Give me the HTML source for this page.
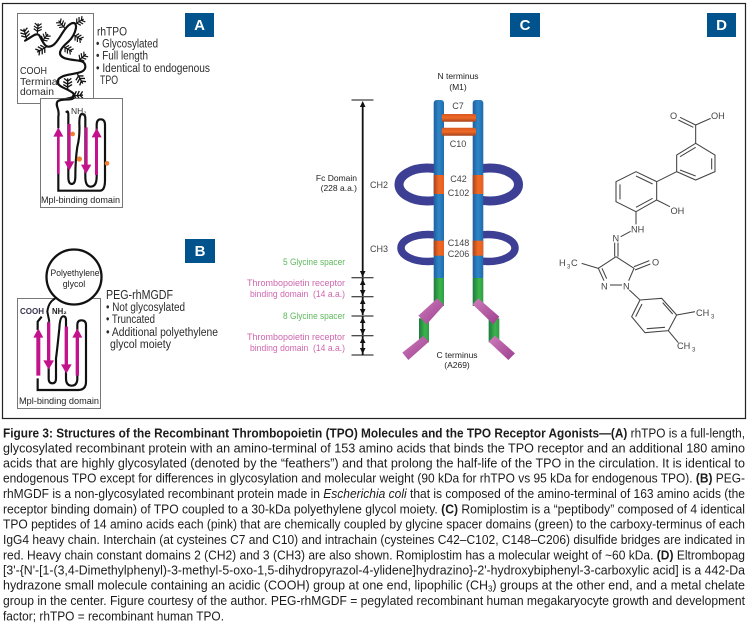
<!DOCTYPE html>
<html><head><meta charset="utf-8"><style>
html,body{margin:0;padding:0;background:#fff}
svg{display:block}
text{font-family:"Liberation Sans",sans-serif;fill:#2b2b2b}
.cap{font-size:12.6px;fill:#1c1c1c}
.b{font-weight:bold}
.badge{font-size:15px;font-weight:bold;fill:#fff;text-anchor:middle}
.t{font-size:11.5px}
.c{font-size:9px;fill:#444;text-anchor:middle}
.r{text-anchor:end}
.g{fill:#5cb85c;font-size:9.5px}
.p{fill:#cf66ae;font-size:9.5px}
.m{font-size:9.2px;fill:#444}
</style></head><body>
<svg width="753" height="626" viewBox="0 0 753 626" xmlns="http://www.w3.org/2000/svg">
<defs>
<linearGradient id="blue" x1="0" x2="1" y1="0" y2="0"><stop offset="0" stop-color="#1f5f9e"/><stop offset=".5" stop-color="#2e86c8"/><stop offset="1" stop-color="#1f6bab"/></linearGradient>
<linearGradient id="green" x1="0" x2="1" y1="0" y2="0"><stop offset="0" stop-color="#1f7a42"/><stop offset=".6" stop-color="#3cb54a"/><stop offset="1" stop-color="#2f9e48"/></linearGradient>
<linearGradient id="org" x1="0" x2="1" y1="0" y2="0"><stop offset="0" stop-color="#a8431c"/><stop offset=".5" stop-color="#f06a25"/><stop offset="1" stop-color="#e85f20"/></linearGradient>
<linearGradient id="orgv" x1="0" x2="0" y1="0" y2="1"><stop offset="0" stop-color="#d9581f"/><stop offset=".5" stop-color="#ee6a28"/><stop offset="1" stop-color="#a8431c"/></linearGradient>
<linearGradient id="pink" x1="0" x2="1" y1="0" y2="1"><stop offset="0" stop-color="#cf7dbb"/><stop offset="1" stop-color="#9c3f8f"/></linearGradient>
<clipPath id="cl"><rect x="385" y="150" width="53" height="125"/></clipPath>
<clipPath id="cr"><rect x="478" y="150" width="53" height="125"/></clipPath>
<g id="fe" fill="none" stroke="#111" stroke-width="3.600">
<path d="M0 0V-30M0-6L-12-13M0-6L12-13M0-14L-12-21M0-14L12-21M0-22L-10-30M0-22L10-30"/>
</g>
</defs>
<rect width="753" height="626" fill="#fff"/>
<rect x="2.500" y="3.500" width="743" height="415" fill="none" stroke="#222" stroke-width="1.200"/>

<rect x="185" y="13" width="29" height="24" fill="#00538c"/><text class="badge" x="199.500" y="30">A</text>
<rect x="185" y="239" width="30" height="24" fill="#00538c"/><text class="badge" x="200" y="256">B</text>
<rect x="510" y="13" width="30" height="24" fill="#00538c"/><text class="badge" x="525" y="30">C</text>
<rect x="707" y="13" width="29" height="24" fill="#00538c"/><text class="badge" x="721.500" y="30">D</text>

<!-- Panel A -->
<rect x="17.500" y="13.500" width="76" height="90" fill="#fff" stroke="#777" stroke-width="1"/>
<text x="20" y="74" style="font-size:10.500px" textLength="27" lengthAdjust="spacingAndGlyphs">COOH</text>
<text x="20" y="85" style="font-size:10.500px" textLength="40" lengthAdjust="spacingAndGlyphs">Terminal</text>
<text x="20" y="95" style="font-size:10.500px" textLength="34" lengthAdjust="spacingAndGlyphs">domain</text>
<g transform="scale(.33333)">
<g fill="none" stroke="#111" stroke-width="6.500" stroke-linecap="round">
<path d="M75 122C95 112 108 96 118 106C130 130 138 150 160 135C180 120 190 82 215 70C238 62 228 105 205 125C178 148 170 165 195 175C225 185 256 175 256 200C256 228 195 215 175 238C165 262 200 262 220 280C228 300 190 292 172 305"/>
</g>
<use href="#fe" transform="translate(80 118) rotate(-15) scale(1.100)"/>
<use href="#fe" transform="translate(112 100) rotate(5) scale(1)"/>
<use href="#fe" transform="translate(125 125) rotate(40) scale(1)"/>
<use href="#fe" transform="translate(140 140) rotate(-120) scale(1.100)"/>
<use href="#fe" transform="translate(195 85) rotate(-40) scale(1)"/>
<use href="#fe" transform="translate(225 72) rotate(60) scale(1)"/>
<use href="#fe" transform="translate(220 105) rotate(120) scale(1)"/>
<use href="#fe" transform="translate(190 140) rotate(120) scale(1)"/>
<use href="#fe" transform="translate(235 182) rotate(50) scale(1)"/>
<use href="#fe" transform="translate(232 222) rotate(150) scale(1.100)"/>
<use href="#fe" transform="translate(203 268) rotate(0) scale(1.100)"/>
<use href="#fe" transform="translate(216 288) rotate(85) scale(1.100)"/>
</g>
<rect x="40.500" y="98.500" width="82" height="109" fill="#fff" stroke="#777" stroke-width="1"/>
<g transform="scale(.33333)">
<path d="M175 385V350C180 325 165 320 172 305C185 292 215 305 222 292" fill="none" stroke="#111" stroke-width="6.500"/>
<path d="M175 515V572H300Q315 572 315 540V375Q315 358 302 358Q290 358 290 375V530Q290 560 272 560Q256 560 256 530V355Q256 342 246 342Q238 342 238 370Q240 410 232 440Q226 480 226 530Q226 552 215 552Q205 552 205 530V345Q205 328 198 338" fill="none" stroke="#111" stroke-width="6.500"/>
<g fill="#c2128c">
<path d="M171 522V410H160L175 382L190 410H179V522Z"/>
<path d="M203 372H212V484H223L208 512L193 484H203Z"/>
<path d="M254 382H263V494H274L258 522L243 494H254Z"/>
<path d="M285 525V412H275L290 384L305 412H294V525Z"/>
</g>
<g fill="#f08030"><circle cx="218" cy="402" r="7"/><circle cx="238" cy="477" r="8"/><circle cx="321" cy="490" r="7"/></g>
</g>
<text x="71" y="114" style="font-size:8.500px;fill:#333">NH₂</text>
<text x="41" y="203" style="font-size:9px;fill:#222" textLength="79" lengthAdjust="spacingAndGlyphs">Mpl-binding domain</text>
<text class="t" x="97" y="35.500" style="font-size:12px" textLength="30" lengthAdjust="spacingAndGlyphs">rhTPO</text>
<text class="t" x="96" y="47.500" textLength="62" lengthAdjust="spacingAndGlyphs">• Glycosylated</text>
<text class="t" x="96" y="59.500" textLength="52" lengthAdjust="spacingAndGlyphs">• Full length</text>
<text class="t" x="96" y="72" textLength="114" lengthAdjust="spacingAndGlyphs">• Identical to endogenous</text>
<text class="t" x="100" y="84" textLength="18" lengthAdjust="spacingAndGlyphs">TPO</text>

<!-- Panel B -->
<rect x="17.500" y="298.500" width="83" height="110" fill="#fff" stroke="#777" stroke-width="1"/>
<g transform="translate(0 215) scale(.33333)">
<path d="M175 245C155 255 145 265 142 290L148 320" fill="none" stroke="#111" stroke-width="6"/>
<path d="M113 490V525H235Q258 525 258 500V330Q258 316 244 316Q232 316 232 330V490Q232 512 215 512Q198 512 198 490V315Q198 304 190 304Q180 304 178 340Q172 400 168 430V490Q168 505 157 505Q146 505 146 490V320M113 345V320L125 305" fill="none" stroke="#111" stroke-width="6.500"/>
<g fill="#c2128c">
<path d="M109 482V368H100L115 340L130 368H121V482Z"/>
<path d="M141 322H151V436H162L146 464L130 436H141Z"/>
<path d="M194 335H204V448H215L199 476L183 448H194Z"/>
<path d="M227 482V368H217L232 340L247 368H237V482Z"/>
</g>
</g>
<circle cx="74" cy="277" r="27.500" fill="#fff" stroke="#111" stroke-width="2.300"/>
<text x="75" y="276" text-anchor="middle" style="font-size:8.800px;fill:#222" textLength="49" lengthAdjust="spacingAndGlyphs">Polyethylene</text>
<text x="74" y="287" text-anchor="middle" style="font-size:8.800px;fill:#222">glycol</text>
<text x="20" y="314" style="font-size:8px;font-weight:bold;fill:#3a3550">COOH</text>
<text x="52" y="314" style="font-size:7.800px;font-weight:bold;fill:#222">NH₂</text>
<text x="19" y="404" style="font-size:9px;fill:#222" textLength="80" lengthAdjust="spacingAndGlyphs">Mpl-binding domain</text>
<text x="106" y="299" style="font-size:12.500px" textLength="67" lengthAdjust="spacingAndGlyphs">PEG-rhMGDF</text>
<text class="t" x="106" y="311" textLength="79" lengthAdjust="spacingAndGlyphs">• Not glycosylated</text>
<text class="t" x="106" y="323" textLength="49" lengthAdjust="spacingAndGlyphs">• Truncated</text>
<text class="t" x="106" y="336" textLength="112" lengthAdjust="spacingAndGlyphs">• Additional polyethylene</text>
<text class="t" x="110" y="348" textLength="61" lengthAdjust="spacingAndGlyphs">glycol moiety</text>

<!-- Panel C -->
<g fill="none" stroke="#3d3f94">
<g clip-path="url(#cl)">
<ellipse cx="427" cy="184.500" rx="28" ry="16.500" stroke-width="9"/>
<ellipse cx="428" cy="248" rx="27" ry="13.500" stroke-width="7.500"/>
</g>
<g clip-path="url(#cr)">
<ellipse cx="490" cy="184.500" rx="28.500" ry="16.500" stroke-width="9"/>
<ellipse cx="488" cy="248" rx="27" ry="13.500" stroke-width="7.500"/>
</g>
</g>
<rect x="433.700" y="100" width="10.300" height="180" rx="3" fill="url(#blue)"/>
<rect x="472.700" y="100" width="10.600" height="180" rx="3" fill="url(#blue)"/>
<rect x="433.700" y="278" width="10.300" height="28" fill="url(#green)"/>
<rect x="472.700" y="278" width="10.600" height="28" fill="url(#green)"/>
<rect x="441.700" y="114" width="34.300" height="7.700" rx="2" fill="url(#orgv)"/>
<rect x="441.700" y="127.700" width="34.300" height="8" rx="2" fill="url(#orgv)"/>
<rect x="433.700" y="175" width="10.300" height="19" fill="url(#org)"/>
<rect x="472.700" y="175" width="10.600" height="19" fill="url(#org)"/>
<rect x="433.700" y="240.700" width="10.300" height="15" fill="url(#org)"/>
<rect x="472.700" y="240.700" width="10.600" height="15" fill="url(#org)"/>
<g transform="translate(230 225) scale(.33333)">
<rect x="567" y="280" width="30" height="72" fill="url(#green)"/>
<rect x="776" y="280" width="32" height="72" fill="url(#green)"/>
<g fill="url(#pink)">
<polygon points="565,272 622,220 642,240 590,298"/>
<polygon points="517,383 580,333 597,350 535,405"/>
<polygon points="728,238 745,220 808,275 790,298"/>
<polygon points="776,350 795,332 855,385 835,405"/>
</g>
</g>
<text class="c" x="458" y="79" style="font-size:8.500px;fill:#222">N terminus</text>
<text class="c" x="458" y="90" style="font-size:8.500px;fill:#222">(M1)</text>
<text class="c" x="458" y="109">C7</text>
<text class="c" x="458" y="147">C10</text>
<text class="c" x="458.500" y="182">C42</text>
<text class="c" x="458.500" y="196">C102</text>
<text class="c" x="458.500" y="246">C148</text>
<text class="c" x="458.500" y="257">C206</text>
<text class="c" x="457" y="358" style="font-size:8.500px;fill:#222">C terminus</text>
<text class="c" x="457" y="368" style="font-size:8.500px;fill:#222">(A269)</text>
<text class="c" x="379" y="188">CH2</text>
<text class="c" x="379" y="252">CH3</text>
<text class="r" x="357" y="181" style="font-size:8.500px;fill:#222">Fc Domain</text>
<text class="r" x="357" y="191" style="font-size:8.500px;fill:#222">(228 a.a.)</text>
<text class="g" x="283" y="265" textLength="62" lengthAdjust="spacingAndGlyphs">5 Glycine spacer</text>
<text class="p" x="247" y="286" textLength="98" lengthAdjust="spacingAndGlyphs">Thrombopoietin receptor</text>
<text class="p" x="250" y="297" textLength="95" lengthAdjust="spacingAndGlyphs">binding domain&#160;&#160;(14 a.a.)</text>
<text class="g" x="283" y="319" textLength="62" lengthAdjust="spacingAndGlyphs">8 Glycine spacer</text>
<text class="p" x="247" y="340" textLength="98" lengthAdjust="spacingAndGlyphs">Thrombopoietin receptor</text>
<text class="p" x="250" y="351" textLength="95" lengthAdjust="spacingAndGlyphs">binding domain&#160;&#160;(14 a.a.)</text>
<!-- ruler -->
<g stroke="#111" stroke-width="1">
<path d="M351.500 100H373.500M351.500 277.700H373.500M351.500 296.700H373.500M351.500 316H373.500M351.500 335.700H373.500M351.500 355H373.500" fill="none"/>
<path d="M362.700 103V277M362.700 278V296M362.700 297V315M362.700 316V335M362.700 336V355" fill="none" stroke-width="1.800"/>
</g>
<g fill="#111">
<path d="M362.700 101l-2.800 6h5.600z"/>
<path d="M362.700 277l-2.800-6h5.600z"/><path d="M362.700 279l-2.800 6h5.600z"/>
<path d="M362.700 296l-2.800-6h5.600z"/><path d="M362.700 298l-2.800 6h5.600z"/>
<path d="M362.700 315l-2.800-6h5.600z"/><path d="M362.700 317l-2.800 6h5.600z"/>
<path d="M362.700 335l-2.800-6h5.600z"/><path d="M362.700 337l-2.800 6h5.600z"/>
<path d="M362.700 354l-2.800-6h5.600z"/>
</g>

<!-- Panel D -->
<g transform="translate(530 90) scale(.33333)" fill="none" stroke="#444" stroke-width="3.200">
<path d="M497 160L555 195V245L497 270L440 245V195Z"/>
<path d="M545 205V238M497 258L450 240M450 200L497 172"/>
<path d="M497 160V105M497 105L450 82M490 112L445 90M497 105L542 85"/>
<path d="M440 245L380 275L318 245L258 275V335L318 365L380 330V275"/>
<path d="M368 282L318 258M270 283V328M318 352L368 325"/>
<path d="M380 330L420 350M318 365V403M302 424L272 440"/>
<path d="M254 458V500M264 458V500"/>
<path d="M258 500L312 535L296 572M258 500L205 535L222 572M216 535L230 566"/>
<path d="M240 585H276"/>
<path d="M312 530L358 512M315 540L361 522"/>
<path d="M155 520L205 535"/>
<path d="M298 600L330 630L395 625L440 675L415 722L345 728L305 680L330 630"/>
<path d="M398 638L428 672M405 712L350 716M317 680L336 642"/>
<path d="M440 675L495 665M415 722L445 758"/>
</g>
<text class="m" x="670" y="119">O</text>
<text class="m" x="711" y="119">OH</text>
<text class="m" x="670.500" y="214">OH</text>
<text class="m" x="631" y="232.500">NH</text>
<text class="m" x="612.500" y="241.500">N</text>
<text class="m" x="652" y="265.500">O</text>
<text class="m" x="559" y="266">H</text><text class="m" x="567" y="268.500" style="font-size:6px">3</text><text class="m" x="571" y="266">C</text>
<text class="m" x="601" y="289.500">N</text>
<text class="m" x="623" y="289.500">N</text>
<text class="m" x="696" y="316">CH</text><text class="m" x="711" y="318.500" style="font-size:6px">3</text>
<text class="m" x="677" y="349">CH</text><text class="m" x="692" y="351.500" style="font-size:6px">3</text>

<!-- Caption -->
<text class="cap" x="3" y="437.300" textLength="742" lengthAdjust="spacingAndGlyphs"><tspan class="b">Figure 3: Structures of the Recombinant Thrombopoietin (TPO) Molecules and the TPO Receptor Agonists—(A)</tspan> rhTPO is a full-length,</text>
<text class="cap" x="3" y="452.300" textLength="742" lengthAdjust="spacingAndGlyphs">glycosylated recombinant protein with an amino-terminal of 153 amino acids that binds the TPO receptor and an additional 180 amino</text>
<text class="cap" x="3" y="467.700" textLength="742" lengthAdjust="spacingAndGlyphs">acids that are highly glycosylated (denoted by the “feathers”) and that prolong the half-life of the TPO in the circulation. It is identical to</text>
<text class="cap" x="3" y="482.700" textLength="742" lengthAdjust="spacingAndGlyphs">endogenous TPO except for differences in glycosylation and molecular weight (90 kDa for rhTPO vs 95 kDa for endogenous TPO). <tspan class="b">(B)</tspan> PEG-</text>
<text class="cap" x="3" y="498" textLength="742" lengthAdjust="spacingAndGlyphs">rhMGDF is a non-glycosylated recombinant protein made in <tspan font-style="italic">Escherichia coli</tspan> that is composed of the amino-terminal of 163 amino acids (the</text>
<text class="cap" x="3" y="513.300" textLength="742" lengthAdjust="spacingAndGlyphs">receptor binding domain) of TPO coupled to a 30-kDa polyethylene glycol moiety. <tspan class="b">(C)</tspan> Romiplostim is a “peptibody” composed of 4 identical</text>
<text class="cap" x="3" y="528.300" textLength="742" lengthAdjust="spacingAndGlyphs">TPO peptides of 14 amino acids each (pink) that are chemically coupled by glycine spacer domains (green) to the carboxy-terminus of each</text>
<text class="cap" x="3" y="544" textLength="742" lengthAdjust="spacingAndGlyphs">IgG4 heavy chain. Interchain (at cysteines C7 and C10) and intrachain (cysteines C42–C102, C148–C206) disulfide bridges are indicated in</text>
<text class="cap" x="3" y="559.300" textLength="742" lengthAdjust="spacingAndGlyphs">red. Heavy chain constant domains 2 (CH2) and 3 (CH3) are also shown. Romiplostim has a molecular weight of ~60 kDa. <tspan class="b">(D)</tspan> Eltrombopag</text>
<text class="cap" x="3" y="574.300" textLength="742" lengthAdjust="spacingAndGlyphs">[3'-{N'-[1-(3,4-Dimethylphenyl)-3-methyl-5-oxo-1,5-dihydropyrazol-4-ylidene]hydrazino}-2'-hydroxybiphenyl-3-carboxylic acid] is a 442-Da</text>
<text class="cap" x="3" y="589.300" textLength="742" lengthAdjust="spacingAndGlyphs">hydrazone small molecule containing an acidic (COOH) group at one end, lipophilic (CH<tspan dy="2" style="font-size:8px">3</tspan><tspan dy="-2">) groups at the other end, and a metal chelate</tspan></text>
<text class="cap" x="3" y="605" textLength="742" lengthAdjust="spacingAndGlyphs">group in the center. Figure courtesy of the author. PEG-rhMGDF = pegylated recombinant human megakaryocyte growth and development</text>
<text class="cap" x="3" y="620.300" textLength="221" lengthAdjust="spacingAndGlyphs">factor; rhTPO = recombinant human TPO.</text>
</svg>
</body></html>
